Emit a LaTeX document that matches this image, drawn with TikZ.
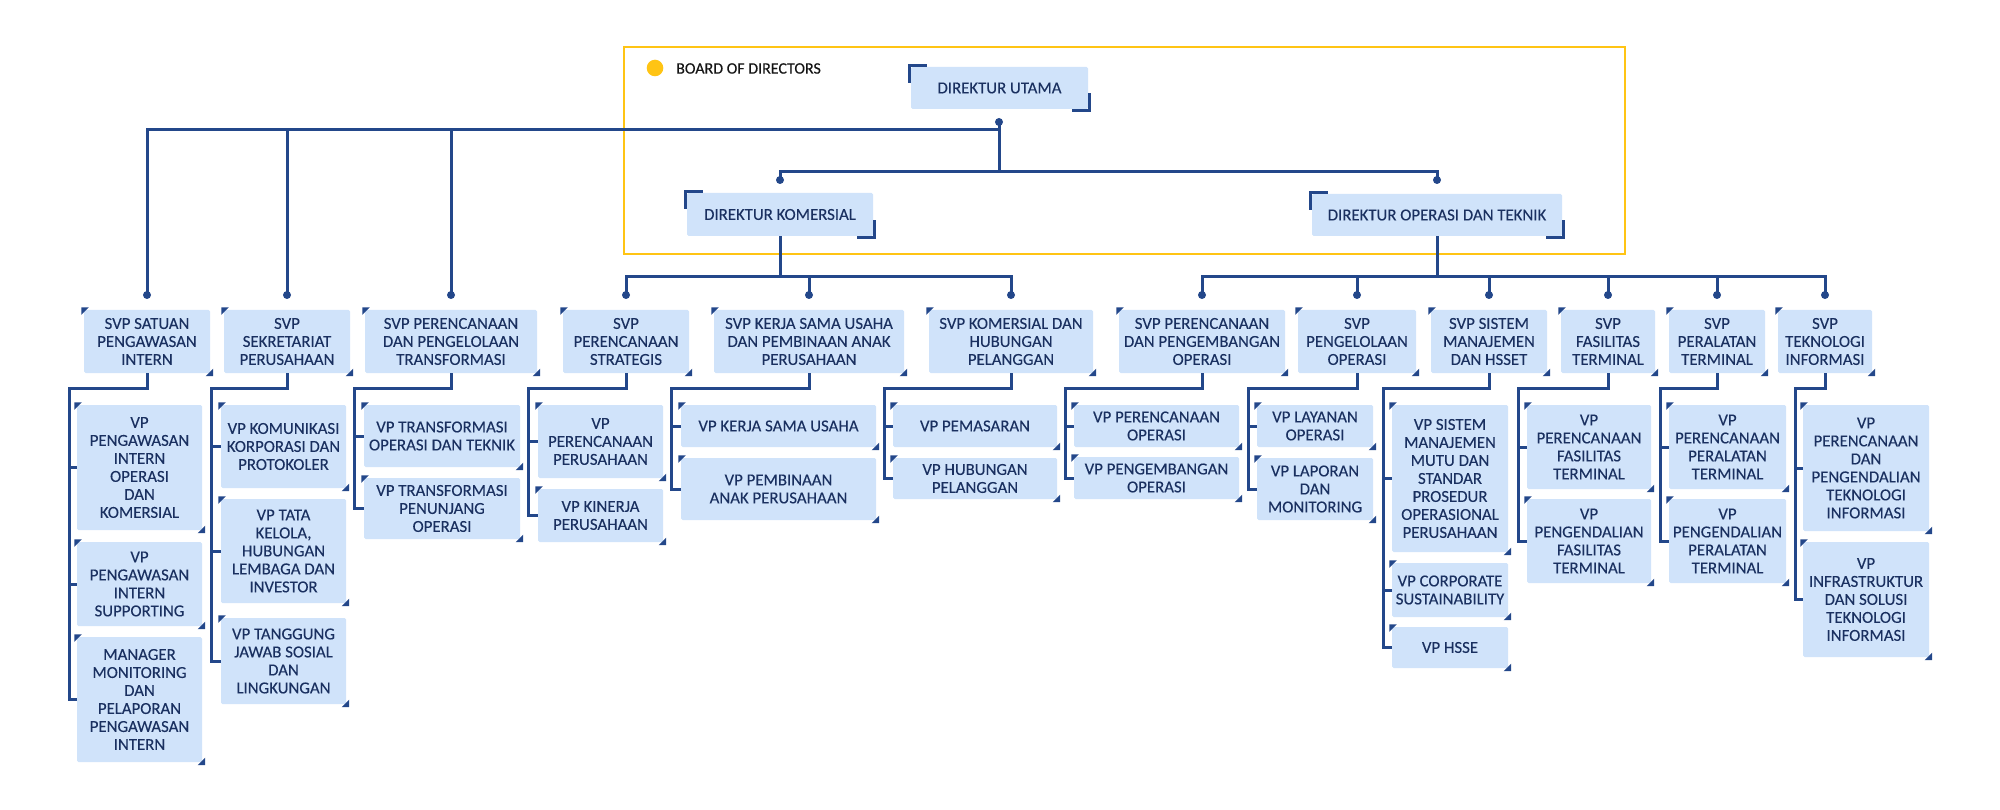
\documentclass[tikz,border=0pt]{standalone}
\usepackage{fontspec}
\setmainfont{Carlito}
\newfontfamily\boxfont{Carlito}[FakeBold=0.15]
\usetikzlibrary{calc}
\definecolor{navy}{RGB}{35,71,138}
\definecolor{txtnavy}{RGB}{26,48,96}
\definecolor{boxblue}{RGB}{208,227,250}
\definecolor{gold}{RGB}{255,196,20}
\tikzset{
  conn/.style={draw=navy, line width=3pt},
  orgbox/.style={fill=boxblue, rounded corners=1.5pt, text=txtnavy, align=center, inner sep=0pt, font=\boxfont\fontsize{16.8}{18}\selectfont},
  jdot/.style={circle, fill=navy, inner sep=0pt, minimum size=8pt},
}
\newcommand\orgnode[6]{%
  \node[orgbox, minimum width={#4-#2}, minimum height={#5-#3}] (#1) at ({(#2+#4)/2},{(#3+#5)/2}) {#6};}
\newcommand\tris[1]{%
  \fill[navy] ([shift={(-2.5,-2.5)}]#1.north west) -- ++(7.5,0) -- ++(-7.5,7.5) -- cycle;
  \fill[navy] ([shift={(3,3)}]#1.south east) -- ++(-7.5,0) -- ++(7.5,-7.5) -- cycle;}
\newcommand\brk[1]{%
  \draw[navy, line width=3pt] ([shift={(-1.5,16)}]#1.north west) -- ([shift={(-1.5,-1.5)}]#1.north west) -- ([shift={(16,-1.5)}]#1.north west);
  \draw[navy, line width=3pt] ([shift={(-16,1.5)}]#1.south east) -- ([shift={(1.5,1.5)}]#1.south east) -- ([shift={(1.5,-16)}]#1.south east);}
\begin{document}
\begin{tikzpicture}[x=1pt, y=-1pt]
\useasboundingbox (0,0) rectangle (2000,810);
% board frame
\node[draw=gold, line width=2.8pt, minimum width=1001pt, minimum height=207pt, inner sep=0pt] (board) at (1124.5,150.5) {};
\node[circle, fill=gold, inner sep=0pt, minimum size=16.6pt] (bdot) at (655,68) {};
\node[anchor=west, inner sep=0pt, text=black!92, font=\boxfont\fontsize{16}{18}\selectfont] (blbl) at (676,68.5) {BOARD OF DIRECTORS};
% directors
\orgnode{du}{911}{67}{1088}{109}{DIREKTUR UTAMA}
\orgnode{dk}{687}{193}{873}{236}{DIREKTUR KOMERSIAL}
\orgnode{dot}{1312}{194}{1562}{236}{DIREKTUR OPERASI DAN TEKNIK}
\brk{du}\brk{dk}\brk{dot}
% junctions
\node[jdot] (j0) at (999,122) {};
\coordinate (hm) at (999,172);
\coordinate (hl) at (147,130);
\node[jdot] (jk) at (780,180) {};
\node[jdot] (jo) at (1437,180) {};
\coordinate (busK) at (780,277);
\coordinate (busO) at (1437,277);
\foreach \n/\x in {d1/147,d2/287,d3/451,d4/626,d5/809,d6/1011,d7/1202,d8/1357,d9/1489,d10/1608,d11/1717,d12/1825}
  {\node[jdot] (\n) at (\x,295) {};}
% SVP boxes
\orgnode{s1}{84}{310}{210}{373}{SVP SATUAN\\PENGAWASAN\\INTERN}
\orgnode{s2}{224}{310}{350}{373}{SVP\\SEKRETARIAT\\PERUSAHAAN}
\orgnode{s3}{365}{310}{537}{373}{SVP PERENCANAAN\\DAN PENGELOLAAN\\TRANSFORMASI}
\orgnode{s4}{563}{310}{689}{373}{SVP\\PERENCANAAN\\STRATEGIS}
\orgnode{s5}{714}{310}{904}{373}{SVP KERJA SAMA USAHA\\DAN PEMBINAAN ANAK\\PERUSAHAAN}
\orgnode{s6}{929}{310}{1093}{373}{SVP KOMERSIAL DAN\\HUBUNGAN\\PELANGGAN}
\orgnode{s7}{1119}{310}{1285}{373}{SVP PERENCANAAN\\DAN PENGEMBANGAN\\OPERASI}
\orgnode{s8}{1298}{310}{1416}{373}{SVP\\PENGELOLAAN\\OPERASI}
\orgnode{s9}{1431}{310}{1547}{373}{SVP SISTEM\\MANAJEMEN\\DAN HSSET}
\orgnode{s10}{1561}{310}{1655}{373}{SVP\\FASILITAS\\TERMINAL}
\orgnode{s11}{1669}{310}{1765}{373}{SVP\\PERALATAN\\TERMINAL}
\orgnode{s12}{1778}{310}{1872}{373}{SVP\\TEKNOLOGI\\INFORMASI}
% VP boxes
\orgnode{v1a}{77}{405}{202}{530}{VP\\PENGAWASAN\\INTERN\\OPERASI\\DAN\\KOMERSIAL}
\orgnode{v1b}{77}{542}{202}{626}{VP\\PENGAWASAN\\INTERN\\SUPPORTING}
\orgnode{v1c}{77}{637}{202}{762}{MANAGER\\MONITORING\\DAN\\PELAPORAN\\PENGAWASAN\\INTERN}
\orgnode{v2a}{221}{405}{346}{488}{VP KOMUNIKASI\\KORPORASI DAN\\PROTOKOLER}
\orgnode{v2b}{221}{499}{346}{603}{VP TATA\\KELOLA,\\HUBUNGAN\\LEMBAGA DAN\\INVESTOR}
\orgnode{v2c}{221}{618}{346}{704}{VP TANGGUNG\\JAWAB SOSIAL\\DAN\\LINGKUNGAN}
\orgnode{v3a}{364}{405}{520}{467}{VP TRANSFORMASI\\OPERASI DAN TEKNIK}
\orgnode{v3b}{364}{478}{520}{539}{VP TRANSFORMASI\\PENUNJANG\\OPERASI}
\orgnode{v4a}{538}{405}{663}{478}{VP\\PERENCANAAN\\PERUSAHAAN}
\orgnode{v4b}{538}{489}{663}{542}{VP KINERJA\\PERUSAHAAN}
\orgnode{v5a}{681}{405}{876}{447}{VP KERJA SAMA USAHA}
\orgnode{v5b}{681}{458}{876}{520}{VP PEMBINAAN\\ANAK PERUSAHAAN}
\orgnode{v6a}{893}{405}{1057}{447}{VP PEMASARAN}
\orgnode{v6b}{893}{458}{1057}{499}{VP HUBUNGAN\\PELANGGAN}
\orgnode{v7a}{1074}{405}{1239}{447}{VP PERENCANAAN\\OPERASI}
\orgnode{v7b}{1074}{457}{1239}{499}{VP PENGEMBANGAN\\OPERASI}
\orgnode{v8a}{1257}{405}{1373}{447}{VP LAYANAN\\OPERASI}
\orgnode{v8b}{1257}{458}{1373}{520}{VP LAPORAN\\DAN\\MONITORING}
\orgnode{v9a}{1392}{405}{1508}{552}{VP SISTEM\\MANAJEMEN\\MUTU DAN\\STANDAR\\PROSEDUR\\OPERASIONAL\\PERUSAHAAN}
\orgnode{v9b}{1392}{563}{1508}{617}{VP CORPORATE\\SUSTAINABILITY}
\orgnode{v9c}{1392}{627}{1508}{668}{VP HSSE}
\orgnode{v10a}{1527}{405}{1651}{489}{VP\\PERENCANAAN\\FASILITAS\\TERMINAL}
\orgnode{v10b}{1527}{499}{1651}{583}{VP\\PENGENDALIAN\\FASILITAS\\TERMINAL}
\orgnode{v11a}{1669}{405}{1786}{489}{VP\\PERENCANAAN\\PERALATAN\\TERMINAL}
\orgnode{v11b}{1669}{499}{1786}{583}{VP\\PENGENDALIAN\\PERALATAN\\TERMINAL}
\orgnode{v12a}{1803}{405}{1929}{531}{VP\\PERENCANAAN\\DAN\\PENGENDALIAN\\TEKNOLOGI\\INFORMASI}
\orgnode{v12b}{1803}{542}{1929}{657}{VP\\INFRASTRUKTUR\\DAN SOLUSI\\TEKNOLOGI\\INFORMASI}
\foreach \b in {s1,s2,s3,s4,s5,s6,s7,s8,s9,s10,s11,s12,v1a,v1b,v1c,v2a,v2b,v2c,v3a,v3b,v4a,v4b,v5a,v5b,v6a,v6b,v7a,v7b,v8a,v8b,v9a,v9b,v9c,v10a,v10b,v11a,v11b,v12a,v12b}
  {\tris{\b}}
% top connectors
\draw[conn] (j0.center) -- (hm);
\draw[conn] (j0.center |- hl) -| (d1.center);
\draw[conn] (d2.center |- hl) -- (d2.center);
\draw[conn] (d3.center |- hl) -- (d3.center);
\draw[conn] (jk.center) |- (hm) -| (jo.center);
\draw[conn] (dk.south) -- (busK);
\draw[conn] (dot.south) -- (busO);
\draw[conn] (d4.center) |- (busK) -| (d6.center);
\draw[conn] (d5.center |- busK) -- (d5.center);
\draw[conn] (d7.center) |- (busO) -| (d12.center);
\foreach \n in {d8,d9,d10,d11} {\draw[conn] (\n.center |- busO) -- (\n.center);}
% column connectors
\foreach \s/\x/\last in {s1/69/v1c,s2/211/v2c,s3/354/v3b,s4/528/v4b,s5/671/v5b,s6/884/v6b,s7/1065/v7b,s8/1248/v8b,s9/1383/v9c,s10/1518/v10b,s11/1660/v11b,s12/1795/v12b}
  {\coordinate (c\s) at (\x,388);
   \draw[conn] (\s.south) |- (c\s) |- (\last.west);}
\foreach \c/\v in {cs1/v1a,cs1/v1b,cs2/v2a,cs2/v2b,cs3/v3a,cs4/v4a,cs5/v5a,cs6/v6a,cs7/v7a,cs8/v8a,cs9/v9a,cs9/v9b,cs10/v10a,cs11/v11a,cs12/v12a}
  {\draw[conn] (\c |- \v.west) -- (\v.west);}
\end{tikzpicture}
\end{document}
